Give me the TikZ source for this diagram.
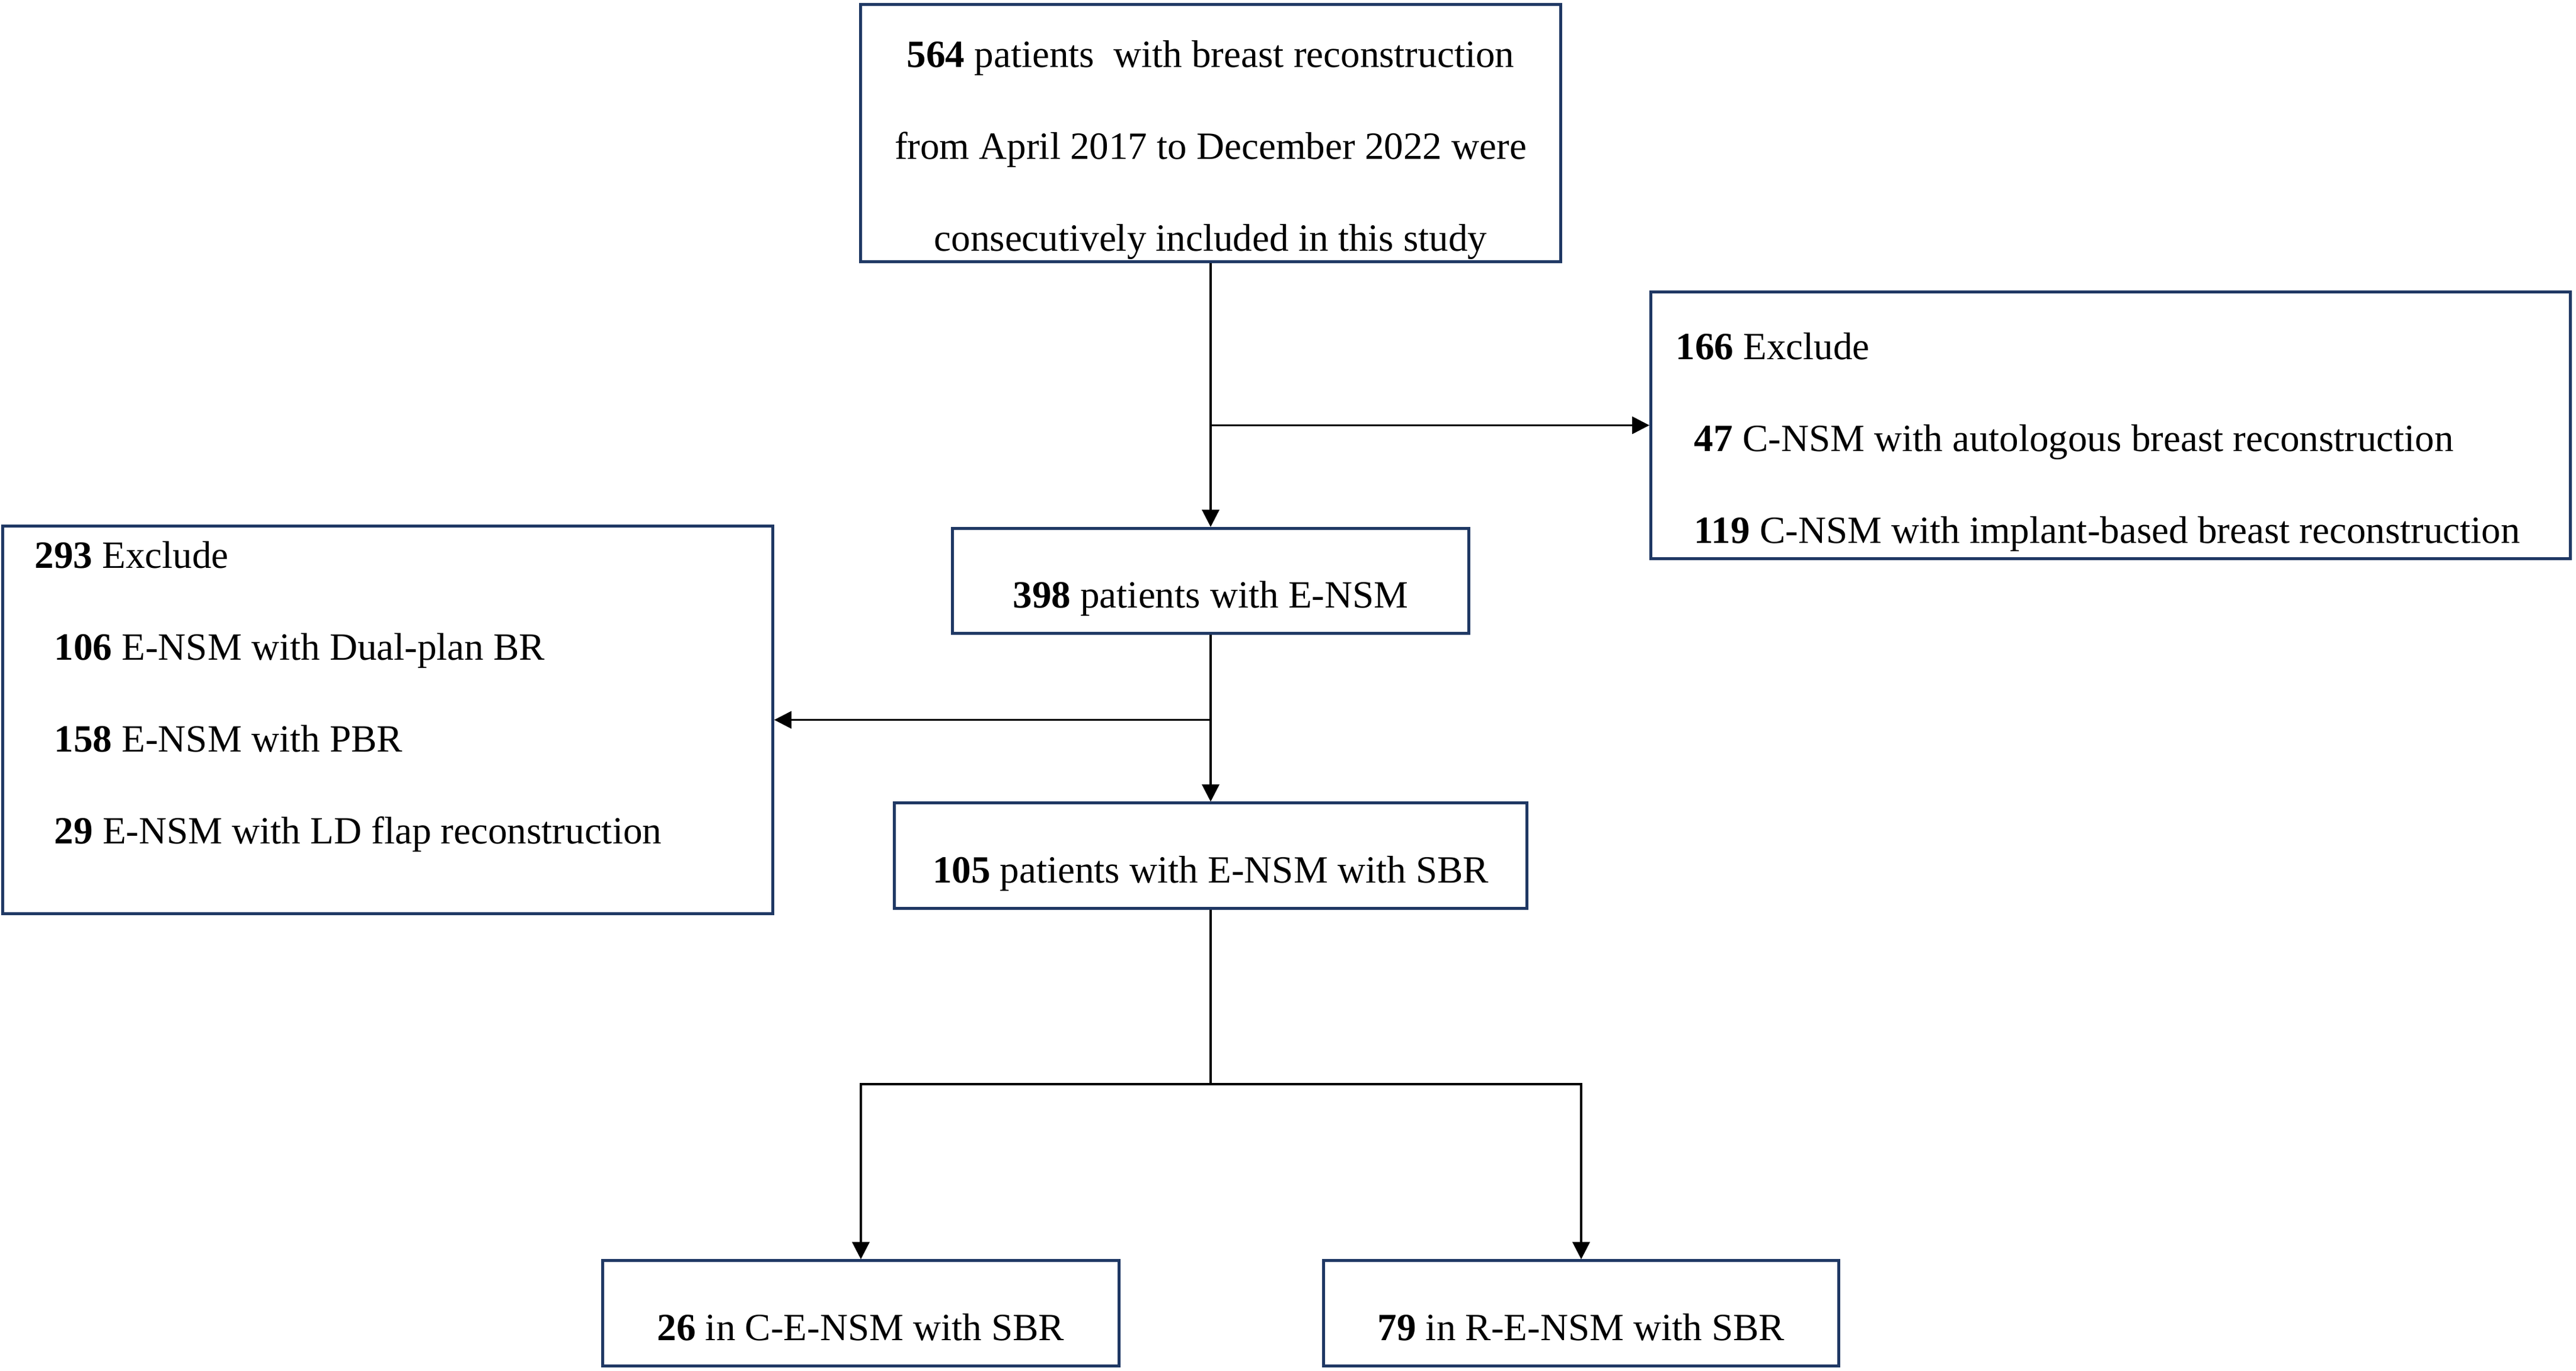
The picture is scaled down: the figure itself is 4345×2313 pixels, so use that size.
\documentclass[tikz,border=0pt]{standalone}
\usepackage{fontspec}
\setmainfont{Liberation Serif}
\usetikzlibrary{arrows.meta,positioning}
\definecolor{boxblue}{RGB}{31,56,100}

\tikzset{
  box/.style={draw=boxblue, line width=0.05cm, inner sep=0pt},
  onebox/.style={box, text height=1.34cm, text depth=0.43cm, minimum width=8.7cm},
  lst/.style={inner sep=0pt},
  arr/.style={line width=0.035cm, -{Triangle[length=0.29cm,width=0.29cm]}},
  lin/.style={line width=0.035cm}
}

\begin{document}
\begin{tikzpicture}[x=0.01cm, y=-0.01cm, font=\fontsize{18.5}{44}\selectfont]
  \useasboundingbox (0,0) rectangle (4345,2313);
  % boxes
  \node[box, minimum width=11.81cm, minimum height=4.34cm] (n564) at (2042,224.5) {};
  \node[lst, anchor=base] (n564txt) at (2042,114) {\begin{tabular}[t]{@{}c@{}}
      \textbf{564} patients~ with breast reconstruction\\
      from April 2017 to December 2022 were\\
      consecutively included in this study
    \end{tabular}};
  \node[box, minimum width=15.5cm, minimum height=4.49cm] (ex166) at (3560,717.5) {};
  \node[lst, anchor=base west] (ex166txt) at (2826,607) {\begin{tabular}[t]{@{}l@{}}
      \textbf{166} Exclude\\
      \hspace*{0.31cm}\textbf{47} C-NSM with autologous breast reconstruction\\
      \hspace*{0.31cm}\textbf{119} C-NSM with implant-based breast reconstruction
    \end{tabular}};
  \node[onebox] (n398) at (2042,980) {\textbf{398} patients with E-NSM};
  \node[box, minimum width=12.98cm, minimum height=6.53cm] (ex293) at (654,1214.5) {};
  \node[lst, anchor=base west] (ex293txt) at (58,959) {\begin{tabular}[t]{@{}l@{}}
      \textbf{293} Exclude\\
      \hspace*{0.33cm}\textbf{106} E-NSM with Dual-plan BR\\
      \hspace*{0.33cm}\textbf{158} E-NSM with PBR\\
      \hspace*{0.33cm}\textbf{29} E-NSM with LD flap reconstruction
    \end{tabular}};
  \node[onebox, minimum width=10.67cm] (n105) at (2042,1443.5) {\textbf{105} patients with E-NSM with SBR};
  \node[onebox] (c26) at (1452,2215.5) {\textbf{26} in C-E-NSM with SBR};
  \node[onebox, minimum width=8.68cm] (r79) at (2667,2215.5) {\textbf{79} in R-E-NSM with SBR};

  % connectors
  \draw[arr] (n564.south) -- (n398.north);
  \draw[arr] (n564.south |- ex166.west) -- (ex166.west);
  \draw[arr] (n398.south) -- (n105.north);
  \draw[arr] (n398.south |- ex293.east) -- (ex293.east);
  \coordinate (split) at (2042,1829);
  \draw[lin] (n105.south) -- (split);
  \draw[arr] (split) -| (c26.north);
  \draw[arr] (split) -| (r79.north);
\end{tikzpicture}
\end{document}
